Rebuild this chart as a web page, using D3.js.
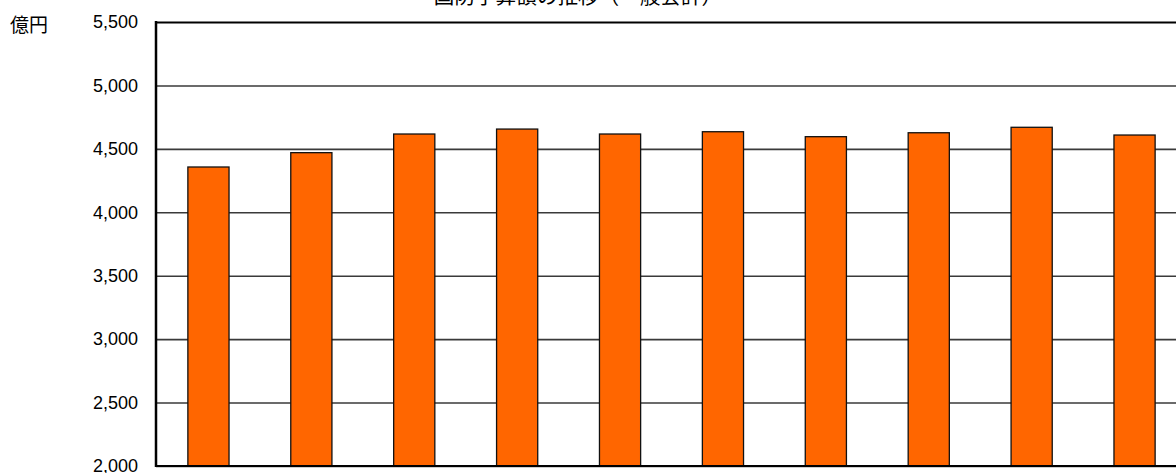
<!DOCTYPE html>
<html>
<head>
<meta charset="utf-8">
<script src="https://cdn.jsdelivr.net/npm/d3@7"></script>
<style>
html,body{margin:0;padding:0;background:#fff;overflow:hidden;}
svg{display:block;}
</style>
</head>
<body>
<svg id="chart" width="1176" height="473"></svg>
<script>
const title = "国防予算額の推移（一般会計）";
const unitLabel = "億円";
const categories = ["1","2","3","4","5","6","7","8","9","10"];
const values = [4357, 4470, 4617, 4656, 4617, 4635, 4596, 4627, 4670, 4609];
const yTicks = [2000, 2500, 3000, 3500, 4000, 4500, 5000, 5500];

const svg = d3.select("#chart");
const plotL = 156, plotT = 22, plotB = 466, plotR = 1186;

const x = d3.scaleBand().domain(categories).range([157, plotR]).paddingInner(0.6).paddingOuter(0.3);
const y = d3.scaleLinear().domain([2000, 5500]).range([plotB, plotT]);

// title
svg.append("text").attr("x", 578).attr("y", 4).attr("text-anchor", "middle")
  .attr("font-family", "'Noto Sans CJK JP', sans-serif").attr("font-size", 20.6).attr("fill", "#000")
  .text(title);

// unit
svg.append("text").attr("x", 10).attr("y", 32)
  .attr("font-family", "'Noto Sans CJK JP', sans-serif").attr("font-size", 19).attr("fill", "#000")
  .text(unitLabel);

// gridlines
const grid = svg.append("g").attr("transform", `translate(${plotL},0)`)
  .call(d3.axisLeft(y).tickValues(yTicks).tickSize(-(plotR - plotL)).tickFormat(""));
grid.select(".domain").remove();
grid.selectAll(".tick line").attr("stroke", "#3a3a3a").attr("stroke-width", 1.6);
grid.selectAll(".tick").filter(d => d === 5500).select("line").attr("stroke", "#000").attr("stroke-width", 2);

// y labels
const yAxis = svg.append("g").attr("transform", `translate(${plotL - 18},0)`)
  .call(d3.axisLeft(y).tickValues(yTicks).tickSize(0).tickPadding(0).tickFormat(d3.format(",")));
yAxis.select(".domain").remove();
yAxis.selectAll("text").attr("font-family", "'Liberation Sans', Arial, sans-serif")
  .attr("font-size", 18).attr("fill", "#000");

// bars
svg.append("g").selectAll("rect").data(values).join("rect")
  .attr("x", (d, i) => x(categories[i]))
  .attr("y", d => y(d))
  .attr("width", x.bandwidth())
  .attr("height", d => y(2000) - y(d))
  .attr("fill", "#FF6600")
  .attr("stroke", "#111").attr("stroke-width", 1.3);

// axes lines
svg.append("line").attr("x1", plotL).attr("x2", plotL).attr("y1", plotT - 1).attr("y2", plotB + 1)
  .attr("stroke", "#000").attr("stroke-width", 2.5);
svg.append("line").attr("x1", plotL).attr("x2", plotR).attr("y1", plotB).attr("y2", plotB)
  .attr("stroke", "#000").attr("stroke-width", 2);
</script>
</body>
</html>
